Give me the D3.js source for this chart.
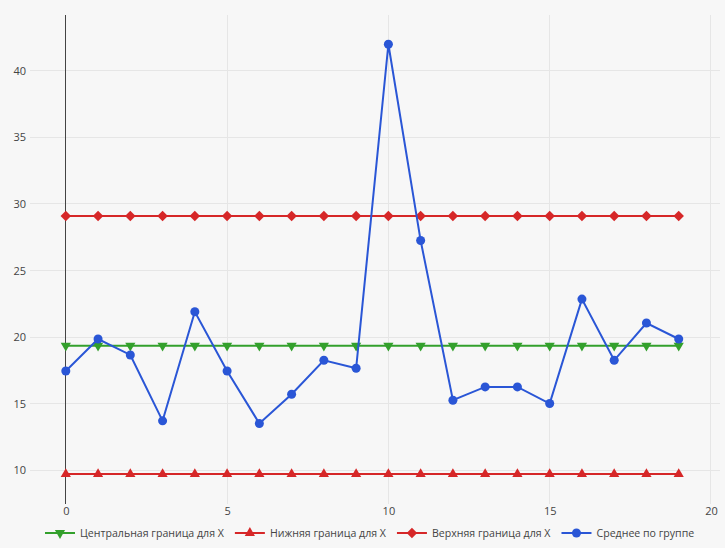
<!DOCTYPE html>
<html>
<head>
<meta charset="utf-8">
<script src="https://cdn.jsdelivr.net/npm/d3@7"></script>
<style>
  body { margin: 0; background: #f7f7f7; }
  text { font-family: "Open Sans", sans-serif; fill: #444; }
</style>
</head>
<body>
<script>
// control chart values
let groups = d3.range(20);
let centerLine = 19.35;
let lowerLine = 9.7;
let upperLine = 29.1;
let groupMeans = [17.45, 19.85, 18.65, 13.7, 21.9, 17.45, 13.5, 15.7, 18.25, 17.65,
	42.0, 27.25, 15.25, 16.25, 16.25, 15.0, 22.85, 18.25, 21.05, 19.85];
let xTicks = [0, 5, 10, 15, 20];
let yTicks = [10, 15, 20, 25, 30, 35, 40];
let seriesNames = ["Центральная граница для X", "Нижняя граница для X", "Верхняя граница для X", "Среднее по группе"];

let width = 725, height = 548;
let plot = { left: 30, right: 720, top: 15, bottom: 504 };

let svg = d3.select("body").append("svg").attr("width", width).attr("height", height);
svg.append("rect").attr("width", width).attr("height", height).attr("fill", "#f7f7f7");

let x = d3.scaleLinear().domain([-1.11, 20.28]).range([plot.left, plot.right]);
let y = d3.scaleLinear().domain([7.45, 44.2]).range([plot.bottom, plot.top]);

// grid
let grid = svg.append("g").attr("shape-rendering", "crispEdges");
grid.selectAll(".gx").data(xTicks).enter().append("line")
	.attr("x1", d => x(d)).attr("x2", d => x(d))
	.attr("y1", plot.top).attr("y2", plot.bottom)
	.attr("stroke", "#e6e6e6").attr("stroke-width", 1);
grid.selectAll(".gy").data(yTicks).enter().append("line")
	.attr("x1", plot.left).attr("x2", plot.right)
	.attr("y1", d => y(d)).attr("y2", d => y(d))
	.attr("stroke", "#e6e6e6").attr("stroke-width", 1);

// zero line
svg.append("line").attr("x1", x(0)).attr("x2", x(0))
	.attr("y1", plot.top).attr("y2", plot.bottom)
	.attr("shape-rendering", "crispEdges")
	.attr("stroke", "#444").attr("stroke-width", 1);

// tick labels
let xAxis = d3.axisBottom(x).tickValues(xTicks).tickSize(0).tickPadding(0);
svg.append("g").attr("transform", "translate(0," + (plot.bottom + 3) + ")").call(xAxis)
	.call(g => g.select(".domain").remove())
	.selectAll("text").attr("font-size", 11).attr("fill", "#444").style("font-family", "'Open Sans', sans-serif");

let yAxis = d3.axisLeft(y).tickValues(yTicks).tickSize(0).tickPadding(0);
svg.append("g").attr("transform", "translate(26,0)").call(yAxis)
	.call(g => g.select(".domain").remove())
	.selectAll("text").attr("font-size", 11).attr("fill", "#444").style("font-family", "'Open Sans', sans-serif");

let green = "#33a02c", red = "#d62728", blue = "#2a56d6";
let series = [
	{ name: seriesNames[0], values: groups.map(() => centerLine), color: green, symbol: d3.symbolTriangle, rot: 180, size: 45 },
	{ name: seriesNames[1], values: groups.map(() => lowerLine), color: red, symbol: d3.symbolTriangle, rot: 0, size: 45 },
	{ name: seriesNames[2], values: groups.map(() => upperLine), color: red, symbol: d3.symbolSquare, rot: 45, size: 55 },
	{ name: seriesNames[3], values: groupMeans, color: blue, symbol: d3.symbolCircle, rot: 0, size: 64 }
];

let line = d3.line().x((d, i) => x(i)).y(d => y(d));

series.forEach(function(s) {
	let g = svg.append("g");
	g.append("path").datum(s.values).attr("d", line)
		.attr("fill", "none").attr("stroke", s.color).attr("stroke-width", 2);
	g.selectAll("path.pt").data(s.values).enter().append("path")
		.attr("class", "pt")
		.attr("d", d3.symbol().type(s.symbol).size(s.size))
		.attr("transform", (d, i) => "translate(" + x(i) + "," + y(d) + ") rotate(" + s.rot + ")")
		.attr("fill", s.color);
});

// legend
let legend = svg.append("g").attr("transform", "translate(0,533)");
let lx = 45;
series.forEach(function(s) {
	let item = legend.append("g").attr("transform", "translate(" + lx + ",0)");
	item.append("line").attr("x1", 0).attr("x2", 30).attr("stroke", s.color).attr("stroke-width", 2);
	item.append("path").attr("d", d3.symbol().type(s.symbol).size(s.size))
		.attr("transform", "translate(15,0) rotate(" + s.rot + ")").attr("fill", s.color);
	let t = item.append("text").attr("x", 35).attr("y", 4).attr("font-size", 10.6).text(s.name);
	lx += 35 + t.node().getComputedTextLength() + 11;
});
</script>
</body>
</html>
